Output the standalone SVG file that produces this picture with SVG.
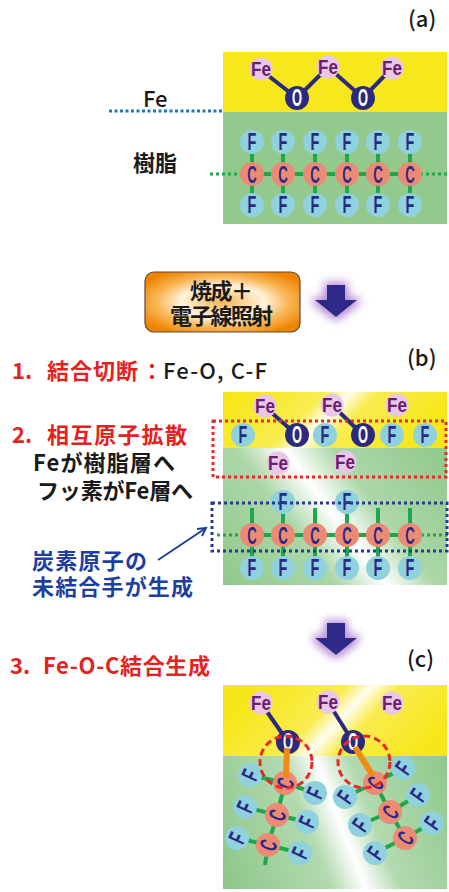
<svg xmlns="http://www.w3.org/2000/svg" width="449" height="892" viewBox="0 0 449 892">
  <style>
    .jp{font-family:"Noto Sans CJK JP","Noto Sans CJK SC",sans-serif;font-weight:700;font-size:22px}
    .med{font-weight:500}
    .red{fill:#e32322}
    .blk{fill:#1a1a1a}
    .blu{fill:#1f3f9f}
    .atom text{font-family:"Liberation Sans",Arial,sans-serif;font-weight:700;text-anchor:middle;dominant-baseline:central}
    .F circle{fill:#8fd1dd}
    .F text{fill:#2a2a86;font-size:24px;transform:scale(0.6,1)}
    .C circle{fill:#ed8a73}
    .C text{fill:#2a2a86;font-size:24px;transform:scale(0.55,1)}
    .Fe circle{fill:#e8c8e6}
    .Fe text{fill:#6e1c6e;font-size:20px;transform:scale(0.85,1)}
    .O circle{fill:#2c2a7c}
    .O text{fill:#ffffff;font-size:23px;transform:scale(0.56,1)}
    .gb{stroke:#1ea84b;stroke-width:4;fill:none}
    .nb{stroke:#2c2a7c;stroke-width:4;fill:none}
    .gdot{stroke:#1ea84b;stroke-width:3;stroke-dasharray:3 3;fill:none}
    .bdot{stroke:#1a78c0;stroke-width:3;stroke-dasharray:3 2.5;fill:none}
    .arrow{fill:#2e2a8a}
  </style>
  <defs>
    <linearGradient id="gYb" gradientUnits="userSpaceOnUse" x1="264" y1="367" x2="380" y2="477">
      <stop offset="0" stop-color="#f7e71a"/>
      <stop offset="0.38" stop-color="#f9ec50"/>
      <stop offset="0.5" stop-color="#fffdf0"/>
      <stop offset="0.62" stop-color="#f9ec50"/>
      <stop offset="1" stop-color="#f7e71a"/>
    </linearGradient>
    <linearGradient id="gGb" gradientUnits="userSpaceOnUse" x1="218" y1="594" x2="442" y2="426">
      <stop offset="0" stop-color="#8dc789"/>
      <stop offset="0.36" stop-color="#acd7a8"/>
      <stop offset="0.5" stop-color="#ffffff"/>
      <stop offset="0.64" stop-color="#acd7a8"/>
      <stop offset="1" stop-color="#8dc789"/>
    </linearGradient>
    <linearGradient id="gYc" gradientUnits="userSpaceOnUse" x1="287" y1="660" x2="403" y2="770">
      <stop offset="0" stop-color="#f7e71a"/>
      <stop offset="0.38" stop-color="#f9ec50"/>
      <stop offset="0.5" stop-color="#fffdf0"/>
      <stop offset="0.62" stop-color="#f9ec50"/>
      <stop offset="1" stop-color="#f7e71a"/>
    </linearGradient>
    <linearGradient id="gGc" gradientUnits="userSpaceOnUse" x1="214" y1="858" x2="456" y2="762">
      <stop offset="0" stop-color="#8dc789"/>
      <stop offset="0.38" stop-color="#b3dab0"/>
      <stop offset="0.5" stop-color="#ffffff"/>
      <stop offset="0.62" stop-color="#b3dab0"/>
      <stop offset="1" stop-color="#8dc789"/>
    </linearGradient>
    <radialGradient id="gBtn" cx="0.5" cy="0.5" r="0.6">
      <stop offset="0" stop-color="#f7b454"/>
      <stop offset="0.45" stop-color="#fff3dd"/>
      <stop offset="0.7" stop-color="#f9b85a"/>
      <stop offset="1" stop-color="#ef8300"/>
    </radialGradient>
    <filter id="glow" x="-50%" y="-50%" width="200%" height="200%">
      <feMorphology in="SourceAlpha" operator="dilate" radius="3" result="d"/>
      <feFlood flood-color="#b88ad6"/>
      <feComposite in2="d" operator="in"/>
      <feGaussianBlur stdDeviation="4"/>
      <feMerge><feMergeNode/><feMergeNode in="SourceGraphic"/></feMerge>
    </filter>
  </defs>

  <!-- panel labels -->
  <text class="jp med blk" x="408" y="27" font-size="18">(a)</text>
  <text class="jp med blk" x="407" y="366" font-size="18">(b)</text>
  <text class="jp med blk" x="407" y="667" font-size="18">(c)</text>

  <!-- (a) initial interface -->
  <g id="panel-a">
    <rect x="223" y="52" width="224" height="60" fill="#f7e81e"/>
    <rect x="223" y="112" width="224" height="112" fill="#93c98d"/>
    <line class="bdot" x1="109" y1="111" x2="223" y2="111"/>
    <text class="jp med blk" x="143" y="107" font-size="26">Fe</text>
    <text class="jp blk" x="133" y="171" font-size="27">樹脂</text>
    <g id="bonds-a">
      <polyline class="nb" points="261,70 297,98 328,67 363,98 392,68"/>
      <line class="gdot" x1="210" y1="174" x2="449" y2="174"/>
      <path class="gb" d="M252,174H410M252,142V205M283,142V205M315,142V205M347,142V205M378,142V205M410,142V205"/>
    </g>
    <g id="atoms-a">
      <g class="atom Fe" transform="translate(261,69)"><circle r="11.5"/><text>Fe</text></g>
      <g class="atom Fe" transform="translate(328,67)"><circle r="11.5"/><text>Fe</text></g>
      <g class="atom Fe" transform="translate(392,68)"><circle r="11.5"/><text>Fe</text></g>
      <g class="atom O" transform="translate(297,98)"><circle r="12"/><text>O</text></g>
      <g class="atom O" transform="translate(363,98)"><circle r="12"/><text>O</text></g>
      <g class="atom F" transform="translate(252,142)"><circle r="12"/><text>F</text></g>
      <g class="atom F" transform="translate(283,142)"><circle r="12"/><text>F</text></g>
      <g class="atom F" transform="translate(315,142)"><circle r="12"/><text>F</text></g>
      <g class="atom F" transform="translate(347,142)"><circle r="12"/><text>F</text></g>
      <g class="atom F" transform="translate(378,142)"><circle r="12"/><text>F</text></g>
      <g class="atom F" transform="translate(410,142)"><circle r="12"/><text>F</text></g>
      <g class="atom C" transform="translate(252,174)"><circle r="12"/><text>C</text></g>
      <g class="atom C" transform="translate(283,174)"><circle r="12"/><text>C</text></g>
      <g class="atom C" transform="translate(315,174)"><circle r="12"/><text>C</text></g>
      <g class="atom C" transform="translate(347,174)"><circle r="12"/><text>C</text></g>
      <g class="atom C" transform="translate(378,174)"><circle r="12"/><text>C</text></g>
      <g class="atom C" transform="translate(410,174)"><circle r="12"/><text>C</text></g>
      <g class="atom F" transform="translate(252,205)"><circle r="12"/><text>F</text></g>
      <g class="atom F" transform="translate(283,205)"><circle r="12"/><text>F</text></g>
      <g class="atom F" transform="translate(315,205)"><circle r="12"/><text>F</text></g>
      <g class="atom F" transform="translate(347,205)"><circle r="12"/><text>F</text></g>
      <g class="atom F" transform="translate(378,205)"><circle r="12"/><text>F</text></g>
      <g class="atom F" transform="translate(410,205)"><circle r="12"/><text>F</text></g>
    </g>
  </g>

  <!-- process step button and arrows -->
  <g id="step">
    <rect x="145" y="272" width="155" height="60" rx="9" fill="url(#gBtn)" stroke="#5a4a3a" stroke-width="1.2"/>
    <text class="jp blk" x="190" y="299" font-size="20" textLength="63">焼成＋</text>
    <text class="jp blk" x="170" y="324" font-size="20" textLength="103">電子線照射</text>
  </g>
  <path class="arrow" filter="url(#glow)" d="M327,285H345V300H357L336,317L315,300H327Z"/>
  <path class="arrow" filter="url(#glow)" d="M327,623H345V638H357L336,655L315,638H327Z"/>

  <!-- step texts -->
  <text class="jp red" x="12" y="379" font-size="21">1.</text>
  <text class="jp red" x="47" y="379" textLength="91">結合切断</text>
  <text class="jp red" x="141" y="379">：</text>
  <text class="jp med blk" x="163" y="379" textLength="104">Fe-O, C-F</text>

  <text class="jp red" x="12" y="443" font-size="21">2.</text>
  <text class="jp red" x="47" y="443" textLength="140">相互原子拡散</text>
  <text class="jp blk" x="33" y="471" textLength="142">Feが樹脂層へ</text>
  <text class="jp blk" x="37" y="499" textLength="156">フッ素がFe層へ</text>
  <text class="jp blu" x="32" y="569" textLength="115">炭素原子の</text>
  <text class="jp blu" x="32" y="595" textLength="161">未結合手が生成</text>

  <text class="jp red" x="10" y="674" font-size="21">3.</text>
  <text class="jp red" x="43" y="674" textLength="167">Fe-O-C結合生成</text>

  <!-- (b) diffusion -->
  <g id="panel-b">
    <rect x="223" y="392" width="224" height="56" fill="url(#gYb)"/>
    <rect x="223" y="448" width="224" height="137" fill="url(#gGb)"/>
    <g id="bonds-b">
      <line class="nb" x1="265" y1="407" x2="297" y2="435"/>
      <line class="nb" x1="332" y1="405" x2="363" y2="435"/>
      <line class="gdot" x1="217" y1="535" x2="449" y2="535"/>
      <path class="gb" d="M252,535H410M252,508V568M283,502V568M315,508V568M347,502V568M378,508V568M410,508V568"/>
    </g>
    <g id="atoms-b">
      <g class="atom Fe" transform="translate(265,406)"><circle r="11.5"/><text>Fe</text></g>
      <g class="atom Fe" transform="translate(332,405)"><circle r="11.5"/><text>Fe</text></g>
      <g class="atom Fe" transform="translate(397,405)"><circle r="11.5"/><text>Fe</text></g>
      <g class="atom F" transform="translate(243,435)"><circle r="12"/><text>F</text></g>
      <g class="atom O" transform="translate(297,435)"><circle r="12"/><text>O</text></g>
      <g class="atom F" transform="translate(325,435)"><circle r="12"/><text>F</text></g>
      <g class="atom O" transform="translate(363,435)"><circle r="12"/><text>O</text></g>
      <g class="atom F" transform="translate(392,435)"><circle r="12"/><text>F</text></g>
      <g class="atom F" transform="translate(425,435)"><circle r="12"/><text>F</text></g>
      <g class="atom Fe" transform="translate(278,463)"><circle r="11.5"/><text>Fe</text></g>
      <g class="atom Fe" transform="translate(345,462)"><circle r="11.5"/><text>Fe</text></g>
      <g class="atom F" transform="translate(283,502)"><circle r="12"/><text>F</text></g>
      <g class="atom F" transform="translate(347,502)"><circle r="12"/><text>F</text></g>
      <g class="atom C" transform="translate(252,535)"><circle r="12" fill="#f2a0a0"/><text>C</text></g>
      <g class="atom C" transform="translate(283,535)"><circle r="12"/><text>C</text></g>
      <g class="atom C" transform="translate(315,535)"><circle r="12"/><text>C</text></g>
      <g class="atom C" transform="translate(347,535)"><circle r="12"/><text>C</text></g>
      <g class="atom C" transform="translate(378,535)"><circle r="12"/><text>C</text></g>
      <g class="atom C" transform="translate(410,535)"><circle r="12"/><text>C</text></g>
      <g class="atom F" transform="translate(252,568)"><circle r="12"/><text>F</text></g>
      <g class="atom F" transform="translate(283,568)"><circle r="12"/><text>F</text></g>
      <g class="atom F" transform="translate(315,568)"><circle r="12"/><text>F</text></g>
      <g class="atom F" transform="translate(347,568)"><circle r="12"/><text>F</text></g>
      <g class="atom F" transform="translate(378,568)"><circle r="12"/><text>F</text></g>
      <g class="atom F" transform="translate(410,568)"><circle r="12"/><text>F</text></g>
    </g>
    <rect x="213" y="421" width="233" height="56" fill="none" stroke="#e8282a" stroke-width="3" stroke-dasharray="3 3"/>
    <rect x="212" y="503" width="235" height="48" fill="none" stroke="#27399a" stroke-width="3" stroke-dasharray="3 3"/>
  </g>

  <!-- pointer to dangling bonds -->
  <g id="pointer" stroke="#1f3f9f" stroke-width="2" fill="none">
    <line x1="158" y1="560" x2="206" y2="528"/>
    <polyline points="197,529 206,528 202,536"/>
  </g>

  <!-- (c) Fe-O-C bond formation -->
  <g id="panel-c">
    <rect x="223" y="685" width="224" height="71" fill="url(#gYc)"/>
    <rect x="223" y="756" width="224" height="133" fill="url(#gGc)"/>
    <g id="bonds-c">
      <line class="nb" x1="261" y1="703" x2="288" y2="742"/>
      <line class="nb" x1="328" y1="702" x2="353" y2="742"/>
      <path class="gb" d="M285,783L277,815L268,845L265,865M285,783L250,775M285,783L315,793M277,815L245,807M277,815L307,822M268,845L237,838M268,845L300,853"/>
      <path class="gb" d="M375,783L390,812L405,838M375,783L403,768M375,783L345,797M390,812L418,795M390,812L360,825M405,838L432,823M405,838L375,853"/>
    </g>
    <g id="atoms-c">
      <g class="atom Fe" transform="translate(261,703)"><circle r="11.5"/><text>Fe</text></g>
      <g class="atom Fe" transform="translate(328,702)"><circle r="11.5"/><text>Fe</text></g>
      <g class="atom Fe" transform="translate(392,703)"><circle r="11.5"/><text>Fe</text></g>
      <g class="atom O" transform="translate(288,742)"><circle r="12"/><text>O</text></g>
      <g class="atom O" transform="translate(353,742)"><circle r="12"/><text>O</text></g>
      <g class="atom F" transform="translate(250,775) rotate(-65)"><circle r="12"/><text>F</text></g>
      <g class="atom C" transform="translate(285,783) rotate(-70)"><circle r="12"/><text>C</text></g>
      <g class="atom F" transform="translate(315,793) rotate(-65)"><circle r="12"/><text>F</text></g>
      <g class="atom F" transform="translate(245,807) rotate(-65)"><circle r="12"/><text>F</text></g>
      <g class="atom C" transform="translate(277,815) rotate(-70)"><circle r="12"/><text>C</text></g>
      <g class="atom F" transform="translate(307,822) rotate(-65)"><circle r="12"/><text>F</text></g>
      <g class="atom F" transform="translate(237,838) rotate(-65)"><circle r="12"/><text>F</text></g>
      <g class="atom C" transform="translate(268,845) rotate(-70)"><circle r="12"/><text>C</text></g>
      <g class="atom F" transform="translate(300,853) rotate(-65)"><circle r="12"/><text>F</text></g>
      <g class="atom F" transform="translate(403,768) rotate(-55)"><circle r="12"/><text>F</text></g>
      <g class="atom C" transform="translate(375,783) rotate(-55)"><circle r="12"/><text>C</text></g>
      <g class="atom F" transform="translate(345,797) rotate(-55)"><circle r="12"/><text>F</text></g>
      <g class="atom F" transform="translate(418,795) rotate(-55)"><circle r="12"/><text>F</text></g>
      <g class="atom C" transform="translate(390,812) rotate(-55)"><circle r="12"/><text>C</text></g>
      <g class="atom F" transform="translate(360,825) rotate(-55)"><circle r="12"/><text>F</text></g>
      <g class="atom F" transform="translate(432,823) rotate(-55)"><circle r="12"/><text>F</text></g>
      <g class="atom C" transform="translate(405,838) rotate(-55)"><circle r="12"/><text>C</text></g>
      <g class="atom F" transform="translate(375,853) rotate(-55)"><circle r="12"/><text>F</text></g>
    </g>
    <g id="new-bonds" stroke="#f08a12" stroke-width="6">
      <line x1="287" y1="748" x2="286" y2="777"/>
      <line x1="355" y1="747" x2="373" y2="776"/>
    </g>
    <g id="highlight" fill="none" stroke="#e8282a" stroke-width="3" stroke-dasharray="7 4">
      <circle cx="286" cy="762" r="26"/>
      <circle cx="364" cy="762" r="26"/>
    </g>
  </g>
</svg>
